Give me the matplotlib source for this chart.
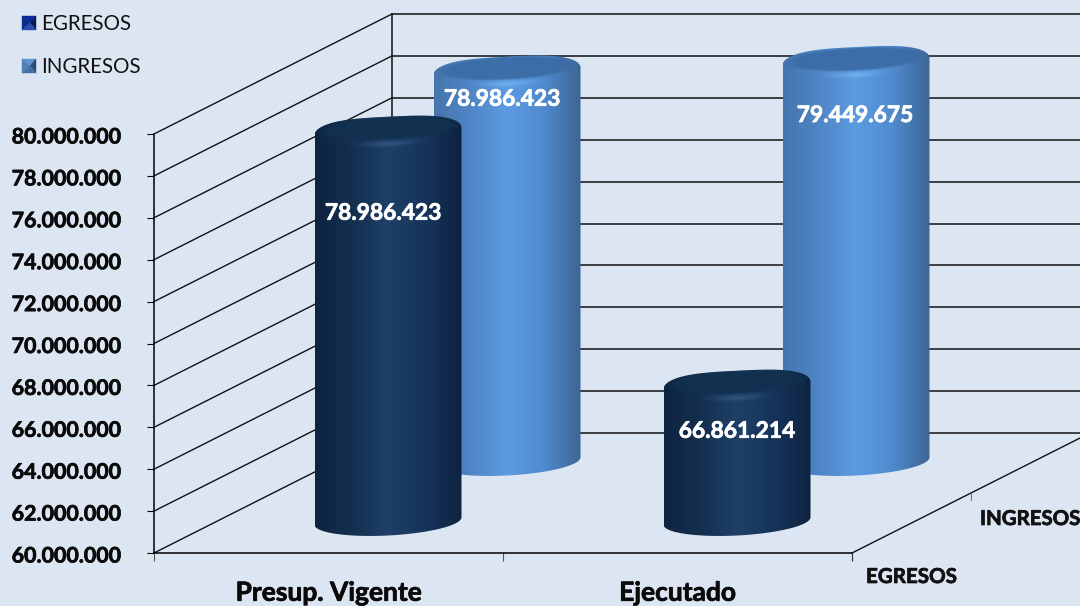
import numpy as np
import matplotlib
matplotlib.use("Agg")
import matplotlib.pyplot as plt
import matplotlib.patheffects as pe
from matplotlib.colors import LinearSegmentedColormap, to_rgb
from matplotlib.patches import PathPatch, Polygon
from matplotlib.path import Path
from matplotlib.transforms import Affine2D

plt.rcParams['font.family'] = ['Lato', 'DejaVu Sans']

categorias = ["Presup. Vigente", "Ejecutado"]
series = ["EGRESOS", "INGRESOS"]
egresos = [78986423, 66861214]
ingresos = [78986423, 79449675]
y_ticks = list(range(60000000, 80000001, 2000000))
y_labels = ["60.000.000", "62.000.000", "64.000.000", "66.000.000", "68.000.000", "70.000.000",
            "72.000.000", "74.000.000", "76.000.000", "78.000.000", "80.000.000"]

W = 1080
H = 606
fondo = "#dce6f2"
#how far the depth axis runs, in pixels
DX = 238
DY = 120
RADIO = 73.5
B = 14.5
SLOPE = -0.05


def grueso(color):
    #the original font is heavier than Lato bold
    return [pe.withStroke(linewidth=0.5, foreground=color)]


fig = plt.figure(figsize=(W / 100, H / 100), dpi=100, facecolor=fondo)
ax = fig.add_axes([154 / W, (H - 553) / H, 698 / W, 419 / H])
ax.patch.set_visible(False)
ax.set_xlim(0, 2)
ax.set_ylim(60000000, 80000000)
ax.spines["top"].set_visible(False)
ax.spines["right"].set_visible(False)
ax.spines["left"].set_linewidth(1.1)
ax.spines["bottom"].set_linewidth(1.1)
ax.set_yticks(y_ticks)
ax.set_yticklabels(y_labels, fontsize=15.4, fontweight="bold", color="#0a0a0a")
ax.tick_params(axis="y", length=5, width=0.8, pad=19)
#the labels sit a bit lower than the ticks in the original
for t in ax.get_yticklabels():
    t.set_transform(t.get_transform() + Affine2D().translate(0, -1.5))
    t.set_path_effects(grueso("#0a0a0a"))
ax.set_xticks([0, 1, 2])
ax.set_xticklabels([])
ax.set_xticks([0.5, 1.5], minor=True)
ax.set_xticklabels(categorias, minor=True, fontsize=19, fontweight="bold", color="#0a0a0a")
for t in ax.get_xticklabels(minor=True):
    t.set_path_effects(grueso("#0a0a0a"))
ax.tick_params(axis="x", which="major", length=6, width=0.8, color="#555555")
ax.tick_params(axis="x", which="minor", length=0, pad=20)


def depth(d):
    return ax.transData + Affine2D().translate(DX * d, DY * d)


#walls
back = depth(1)
for v in y_ticks:
    ax.plot([0, 2.02], [v, v], transform=back, color="#111111", lw=1.1, clip_on=False)
    p0 = ax.transData.transform((0, v))
    ax.plot([p0[0], p0[0] + DX], [p0[1], p0[1] + DY], transform=None, color="#111111", lw=1.0, clip_on=False)
ax.plot([0, 0], [y_ticks[0], y_ticks[-1]], transform=back, color="#111111", lw=1.1, clip_on=False)
p1 = ax.transData.transform((2, y_ticks[0]))
ax.plot([p1[0], p1[0] + DX * 1.02], [p1[1], p1[1] + DY * 1.02], transform=None, color="#111111", lw=1.0, clip_on=False)
#ticks of the depth axis
for d, c in [(0, "#333333"), (0.5, "#777777")]:
    ax.plot([p1[0] + DX * d, p1[0] + DX * d], [p1[1] + DY * d - 7, p1[1] + DY * d], transform=None, color=c, lw=0.8, clip_on=False)

#overlay in pixels for the cylinders, placed through the transData of ax
px = fig.add_axes([0, 0, 1, 1], zorder=5)
px.patch.set_visible(False)
px.axis("off")


def a_pixeles(x, v, d):
    p = depth(d).transform((x, v))
    return p[0], H - p[1]


def silueta(cx, ytop, ybase):
    t = np.linspace(0, np.pi, 80)
    # bottom half, right to left
    xb = cx + RADIO * np.cos(t)
    yb = ybase + B * np.sin(t) + SLOPE * RADIO * np.cos(t)
    # top half with rounded shoulders, left to right
    c = np.cos(t)
    s = np.sin(t)
    xc = np.sign(c) * np.abs(c) ** 0.6
    xt = cx - RADIO * xc
    yt = ytop - B * s - SLOPE * RADIO * xc
    return np.concatenate([np.column_stack([xb, yb]), np.column_stack([xt, yt])])


def cilindro(x, valor, d, colores, tapa, brillo):
    cx, ytop = a_pixeles(x, valor, d)
    ytop = ytop + 6
    _, ybase = a_pixeles(x, y_ticks[0], d)
    ybase = ybase - 2
    forma = silueta(cx, ytop, ybase)
    clip = PathPatch(Path(np.vstack([forma, forma[:1]]), closed=True),
                     facecolor="none", edgecolor="none", transform=px.transData)
    px.add_patch(clip)
    cmap = LinearSegmentedColormap.from_list("c", colores)
    grad = np.linspace(0, 1, 256).reshape(1, -1)
    im = px.imshow(grad, cmap=cmap, extent=(cx - RADIO, cx + RADIO, ybase + B + 6, ytop - B - 6), aspect="auto", interpolation="bilinear")
    im.set_clip_path(clip)
    #the cap: an inset darker ellipse and a highlight on the bevel below it
    n = 160
    yy, xx = np.mgrid[-1:1:n * 1j, -1:1:n * 2j]
    xs = xx * RADIO
    ys = yy * 40
    e = (xx / 0.92) ** 2 + ((ys + 3 - SLOPE * xs) / 11.5) ** 2
    alfa = np.clip((1.2 - e) / 0.4, 0, 1) * 0.95
    arco = SLOPE * xs + 13 * np.sqrt(np.clip(1 - xx ** 2, 0, 1))
    h = np.exp(-((ys - arco) / 2.5) ** 2) * np.exp(-(xx / 0.32) ** 2) * 0.85
    rgba = np.zeros((n, n * 2, 4))
    mezcla = (h / np.maximum(h + alfa, 1e-6))[..., None]
    rgba[..., :3] = np.array(to_rgb(tapa)) * (1 - mezcla) + np.array(to_rgb(brillo)) * mezcla
    rgba[..., 3] = np.clip(h + alfa, 0, 1)
    im2 = px.imshow(rgba, extent=(cx - RADIO, cx + RADIO, ytop + 40, ytop - 40), aspect="auto", interpolation="bilinear")
    im2.set_clip_path(clip)
    return cx, ytop


oscuro = ["#0e2340", "#14304f", "#1e3f68", "#16345a", "#0e2340"]
claro = ["#4575ad", "#4f86c6", "#5c9be2", "#508ace", "#3d6594"]

#INGRESOS first since they sit behind
for i, v in enumerate(ingresos):
    cilindro(i + 0.5, v, 0.75, claro, "#3c6ca6", "#6fb2ee")
for i, v in enumerate(egresos):
    cilindro(i + 0.5, v, 0.25, oscuro, "#12304f", "#35587f")


def etiqueta(x, valor, d, dx, dy):
    cx, y = a_pixeles(x, valor, d)
    px.text(cx + dx, y + dy, format(valor, ",").replace(",", "."), color="white", fontsize=16.4,
            fontweight="bold", ha="center", va="center", path_effects=grueso("white"))


etiqueta(0.5, ingresos[0], 0.75, -5, 34)
etiqueta(1.5, ingresos[1], 0.75, -1, 60)
etiqueta(0.5, egresos[0], 0.25, -5, 88)
etiqueta(1.5, egresos[1], 0.25, 0, 52)

#legend and depth labels
leyenda = [("#0a2a9c", "#08184f", "#0a2a8c", "#2a4bb0"), ("#5f93cf", "#2c4a70", "#4f80b8", "#4470a5")]
for k, s in enumerate(series):
    x0, y0 = 22, 16 + 43 * k
    x1, y1 = x0 + 14, y0 + 14
    xc, yc = x0 + 8, y0 + 7
    col = leyenda[k]
    px.add_patch(Polygon([(x0, y0), (x1, y0), (xc, yc)], facecolor=col[0], edgecolor=col[0], lw=0.3))
    px.add_patch(Polygon([(x1, y0), (x1, y1), (xc, yc)], facecolor=col[1], edgecolor=col[1], lw=0.3))
    px.add_patch(Polygon([(x0, y0), (x0, y1), (xc, yc)], facecolor=col[2], edgecolor=col[2], lw=0.3))
    px.add_patch(Polygon([(x0, y1), (x1, y1), (xc, yc)], facecolor=col[3], edgecolor=col[3], lw=0.3))
    px.text(41, y0 + 8, s, fontsize=14.8, color="#111111", ha="left", va="center")

px.text(866, 577, series[0], fontsize=14.8, fontweight="bold", color="#111111", ha="left", va="center", path_effects=grueso("#111111"))
px.text(980, 519, series[1], fontsize=14.7, fontweight="bold", color="#111111", ha="left", va="center", path_effects=grueso("#111111"))

px.set_xlim(0, W)
px.set_ylim(H, 0)

fig.savefig("out.png", dpi=100, facecolor=fondo)
